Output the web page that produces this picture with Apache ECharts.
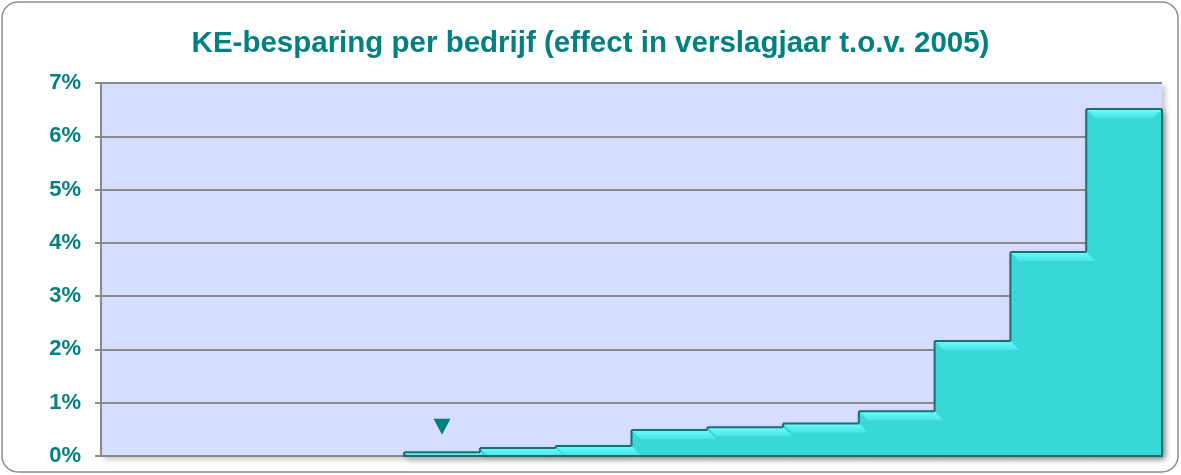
<!DOCTYPE html>
<html>
<head>
<meta charset="utf-8">
<script src="https://cdn.jsdelivr.net/npm/echarts@6/dist/echarts.min.js"></script>
<style>
html,body{margin:0;padding:0;background:#fff;}
#c{width:1181px;height:475px;}
</style>
</head>
<body>
<div id="c"></div>
<script>
const titleText = 'KE-besparing per bedrijf (effect in verslagjaar t.o.v. 2005)';
const categories = ['1','2','3','4','5','6','7','8','9','10','11','12','13','14'];
const savings = [null, null, null, null, 0.07, 0.15, 0.19, 0.49, 0.54, 0.61, 0.84, 2.16, 3.83, 6.51];
const markerCategory = ['5'];
const markerValue = [0.55];
const yTicks = [0, 1, 2, 3, 4, 5, 6, 7];

const lastIdx = savings.length - 1;
const barData = [];
savings.forEach((v, i) => {
  if (v == null) return;
  const prev = (i > 0 && savings[i - 1] != null) ? savings[i - 1] : 0;
  barData.push([i, v, prev]);
});

const FILL = '#38d8d8';
const EDGE = '#1b6f70';

function renderStep(params, api) {
  const i = api.value(0), v = api.value(1), prev = api.value(2);
  const pTop = api.coord([i, v]);
  const pBase = api.coord([i, 0]);
  const pPrev = api.coord([i, prev]);
  const w = api.size([1, 0])[0];
  const x0 = pTop[0] - w / 2, x1 = pTop[0] + w / 2;
  const yT = pTop[1], yB = pBase[1], yP = pPrev[1];
  const h = yB - yT;
  const bev = Math.min(9, h);
  const isLast = i === lastIdx;
  const children = [
    {type: 'rect', shape: {x: x0, y: yT, width: w, height: h}, z2: -1,
     style: {fill: FILL, shadowColor: 'rgba(0,0,0,0.35)', shadowBlur: 6, shadowOffsetX: 3, shadowOffsetY: 3}},
    {type: 'rect', shape: {x: x0 - 0.5, y: yT, width: w + 1.5, height: h}, z2: 0,
     style: {fill: FILL}},
    {type: 'polygon', z2: 1,
     shape: {points: isLast
       ? [[x0, yT], [x1, yT], [x1 - bev, yT + bev], [x0 + bev, yT + bev]]
       : [[x0, yT], [x1, yT], [x1 + bev, yT + bev], [x0 + bev, yT + bev]]},
     style: {fill: new echarts.graphic.LinearGradient(0, 0, 0, 1, [
       {offset: 0, color: '#6ffafa'}, {offset: 1, color: '#48e6e6'}])}},
    {type: 'line', z2: 2, shape: {x1: x0, y1: yT, x2: x1, y2: yT}, style: {stroke: EDGE, lineWidth: 2}},
    {type: 'line', z2: 2, shape: {x1: x0, y1: yP, x2: x0, y2: yT}, style: {stroke: EDGE, lineWidth: 2}},
    {type: 'line', z2: 2, shape: {x1: x0 - 1, y1: yB, x2: x1 + 1, y2: yB}, style: {stroke: EDGE, lineWidth: 2}}
  ];
  if (isLast) {
    children.push({type: 'line', z2: 2, shape: {x1: x1, y1: yT, x2: x1, y2: yB}, style: {stroke: EDGE, lineWidth: 2}});
  }
  return {type: 'group', children: children};
}

const chart = echarts.init(document.getElementById('c'), null, {renderer: 'canvas'});
chart.setOption({
  backgroundColor: '#ffffff',
  animation: false,
  graphic: [{
    type: 'rect',
    shape: {x: 2, y: 2, width: 1176, height: 470, r: 16},
    style: {fill: 'none', stroke: '#8c8c8c', lineWidth: 1.5},
    silent: true,
    z: -10
  }],
  title: {
    text: titleText,
    left: 'center',
    top: 24,
    textStyle: {color: '#008080', fontFamily: 'Liberation Sans, Arial, sans-serif', fontWeight: 'bold', fontSize: 29.5}
  },
  grid: {
    left: 101, top: 83, right: 19, bottom: 19,
    show: true,
    backgroundColor: '#d5defe',
    borderWidth: 0,
    shadowColor: 'rgba(0,0,0,0.25)',
    shadowBlur: 6,
    shadowOffsetX: 3,
    shadowOffsetY: 3
  },
  xAxis: {
    type: 'category',
    data: categories,
    axisLine: {show: true, lineStyle: {color: '#8a8a8a', width: 2}},
    axisTick: {show: false},
    axisLabel: {show: false},
    splitLine: {show: false}
  },
  yAxis: {
    type: 'value',
    min: yTicks[0],
    max: yTicks[yTicks.length - 1],
    interval: 1,
    axisLine: {show: true, lineStyle: {color: '#8a8a8a', width: 2}},
    axisTick: {show: true, length: 6, lineStyle: {color: '#8a8a8a', width: 2}},
    axisLabel: {
      formatter: v => v + '%',
      color: '#008080',
      fontFamily: 'Liberation Sans, Arial, sans-serif',
      fontWeight: 'bold',
      fontSize: 22,
      margin: 20
    },
    splitLine: {show: true, lineStyle: {color: '#8a8a8a', width: 2}}
  },
  series: [{
    type: 'custom',
    data: barData,
    renderItem: renderStep,
    encode: {x: 0, y: 1},
    z: 2
  }, {
    type: 'scatter',
    data: markerCategory.map((c, i) => [c, markerValue[i]]),
    symbol: 'triangle',
    symbolRotate: 180,
    symbolSize: [17, 16],
    itemStyle: {color: '#007f7f', opacity: 1},
    z: 3
  }]
});
</script>
</body>
</html>
